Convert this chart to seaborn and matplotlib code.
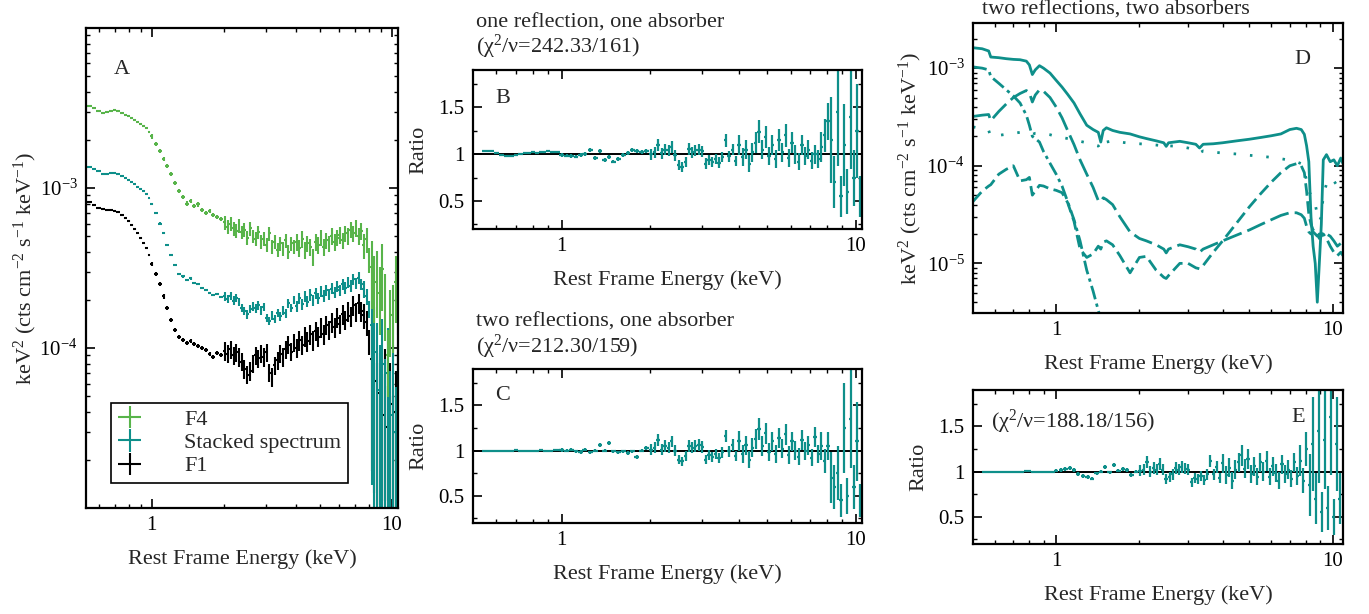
import numpy as np
import pandas as pd
import matplotlib
matplotlib.use("Agg")
import matplotlib.pyplot as plt
import seaborn as sns
from matplotlib.ticker import FixedLocator, NullFormatter, LogLocator, MultipleLocator, FuncFormatter

# ---------------- data ----------------
# spectral bins (keV)
energy = [0.55, 0.575, 0.60, 0.625, 0.65, 0.675, 0.70, 0.725, 0.75, 0.775, 0.80, 0.825, 0.85, 0.875, 0.90, 0.925, 0.95, 0.975,
          1.00, 1.04, 1.08, 1.12, 1.16, 1.20, 1.25, 1.30, 1.35, 1.40, 1.45, 1.50, 1.56, 1.62, 1.68, 1.74, 1.80, 1.87, 1.94,
          2.01, 2.07, 2.13, 2.19, 2.25, 2.31, 2.37, 2.43, 2.50, 2.57, 2.64, 2.71, 2.78, 2.85, 2.93, 3.01, 3.09, 3.17, 3.25, 3.34,
          3.43, 3.52, 3.61, 3.71, 3.81, 3.91, 4.01, 4.12, 4.23, 4.34, 4.45, 4.57, 4.69, 4.81, 4.94, 5.07, 5.20, 5.34, 5.48, 5.62,
          5.77, 5.92, 6.07, 6.23, 6.39, 6.56, 6.73, 6.90, 7.08, 7.26, 7.45, 7.64, 7.84, 8.04, 8.25, 8.46, 8.68, 8.90, 9.13, 9.36,
          9.60, 9.85, 10.10, 10.36, 10.60]

# unfolded spectra, units of 1e-4 keV^2 cts cm^-2 s^-1 keV^-1
f4_flux = [32.5, 31.5, 30.5, 29.5, 29.8, 30.5, 30.8, 30.2, 29.5, 28.8, 28.0, 27.5, 26.8, 26.0, 25.2, 24.5, 23.8, 22.5,
           21.0, 18.8, 17.0, 15.2, 13.8, 12.3, 10.8, 9.6, 8.8, 8.0, 8.3, 7.7, 7.9, 7.3, 7.0, 7.2, 6.8, 6.6, 6.4,
           6.1, 5.7, 6.0, 5.6, 5.4, 5.8, 5.3, 5.5, 4.9, 5.6, 5.0, 4.8, 5.3, 4.6, 4.8, 4.4, 5.2, 4.3, 4.6, 4.1,
           4.5, 4.2, 4.7, 4.0, 4.5, 4.3, 4.6, 4.2, 4.8, 4.1, 4.5, 4.3, 3.7, 4.6, 4.4, 4.9, 4.3, 4.7, 4.5, 5.0,
           4.6, 4.9, 5.1, 4.7, 5.2, 5.0, 5.5, 5.2, 5.6, 5.0, 5.4, 4.4, 4.8, 3.6, 3.2, 2.6, 2.8, 2.2, 3.1, 2.0,
           0.9, 1.6, 1.7, 2.6, 2.2]
stacked_flux = [13.6, 13.2, 12.7, 12.3, 12.2, 12.4, 12.5, 12.3, 11.9, 11.6, 11.2, 10.9, 10.6, 10.2, 9.9, 9.6, 9.2, 8.6,
                7.9, 7.0, 6.0, 5.2, 4.4, 3.8, 3.3, 2.9, 2.8, 2.65, 2.72, 2.55, 2.50, 2.38, 2.30, 2.22, 2.15, 2.18, 2.08,
                2.10, 2.02, 2.12, 1.98, 2.06, 1.95, 1.78, 1.70, 1.62, 1.75, 1.82, 1.77, 1.85, 1.72, 1.80, 1.55, 1.48, 1.60, 1.52, 1.66,
                1.58, 1.72, 1.65, 1.90, 1.78, 2.00, 1.82, 2.05, 1.88, 2.10, 1.95, 2.15, 1.98, 2.20, 2.05, 2.25, 2.12, 2.30, 2.18, 2.35,
                2.22, 2.42, 2.30, 2.50, 2.38, 2.58, 2.45, 2.70, 2.55, 2.75, 2.50, 2.35, 2.10, 1.75, 1.40, 0.95, 0.75, 0.55, 0.80, 0.45,
                0.70, 0.38, 0.55, 0.30, 0.50]
f1_flux = [8.2, 7.8, 7.5, 7.35, 7.3, 7.25, 7.2, 7.1, 6.8, 6.5, 6.2, 5.9, 5.55, 5.2, 4.85, 4.5, 4.2, 3.8,
           3.35, 2.9, 2.5, 2.1, 1.78, 1.50, 1.30, 1.17, 1.12, 1.08, 1.11, 1.06, 1.03, 1.00, 0.97, 0.92, 0.88, 0.93, 0.90,
           0.96, 0.92, 0.98, 0.90, 0.94, 0.88, 0.82, 0.74, 0.68, 0.72, 0.80, 0.90, 0.86, 0.92, 0.88, 0.94, 0.70, 0.66, 0.78, 0.84,
           0.92, 0.88, 0.98, 1.05, 0.95, 1.08, 1.00, 1.12, 1.05, 1.18, 1.10, 1.22, 1.12, 1.28, 1.18, 1.35, 1.22, 1.40, 1.30, 1.45,
           1.35, 1.55, 1.42, 1.62, 1.50, 1.70, 1.58, 1.85, 1.68, 1.90, 1.70, 1.60, 1.45, 1.10, 0.85, 0.62, 0.45, 0.52, 0.38, 0.55,
           0.32, 0.45, 0.28, 0.40, 0.30]

# data/model ratios
ratio_b = [1.03, 1.03, 1.01, 0.995, 0.985, 0.985, 0.99, 1.0, 1.01, 1.015, 1.02, 1.01, 1.02, 1.025, 1.03, 1.025, 1.02, 1.02,
           0.99, 0.985, 0.98, 0.975, 0.99, 1.0, 1.04, 0.96, 1.03, 0.94, 0.97, 0.92, 0.95, 0.99, 1.01, 1.04, 1.03, 1.02, 1.03,
           1.00, 1.02, 1.10, 1.01, 1.05, 1.04, 1.08, 0.99, 0.88, 0.86, 0.92, 1.06, 1.02, 1.04, 1.05, 1.03, 0.90, 0.94, 0.92, 0.95,
           0.91, 0.97, 1.15, 0.98, 1.05, 0.93, 1.10, 0.97, 1.05, 0.90, 1.02, 1.12, 1.24, 1.05, 1.18, 0.98, 1.10, 0.95, 1.15, 1.02,
           1.20, 0.96, 1.12, 1.00, 0.92, 1.10, 0.98, 1.05, 0.93, 1.00, 0.95, 1.08, 1.20, 1.35, 1.15, 0.70, 1.45, 0.55, 1.10, 0.60,
           1.40, 0.75, 1.25, 0.55, 0.95]
ratio_c = [1.0, 1.0, 1.0, 0.998, 1.0, 1.0, 1.002, 1.0, 0.998, 1.0, 1.0, 1.0, 1.002, 1.0, 0.998, 1.0, 1.005, 1.008,
           1.005, 1.0, 1.01, 0.99, 0.985, 1.01, 0.98, 1.0, 1.06, 1.0, 1.08, 0.99, 0.98, 0.99, 0.97, 0.99, 0.93, 1.0, 1.03,
           1.01, 1.03, 1.12, 1.01, 1.05, 1.03, 1.10, 1.00, 0.90, 0.88, 0.94, 1.05, 1.03, 1.05, 1.06, 1.04, 0.90, 0.95, 0.93, 0.96,
           0.92, 0.98, 1.16, 0.99, 1.06, 0.94, 1.11, 0.96, 1.06, 0.90, 1.03, 1.13, 1.24, 1.05, 1.19, 0.98, 1.10, 0.96, 1.14, 1.02,
           1.18, 0.95, 1.10, 1.00, 0.93, 1.12, 0.99, 1.06, 0.92, 1.15, 0.96, 1.05, 0.88, 1.05, 0.70, 0.60, 0.75, 0.45, 1.25, 0.50,
           1.35, 0.60, 1.10, 0.45, 0.90]
ratio_e = [1.0, 1.0, 1.0, 1.0, 0.998, 0.995, 0.995, 0.998, 1.0, 1.005, 1.005, 1.0, 0.998, 0.995, 0.99, 0.995, 1.0, 1.0,
           1.01, 1.02, 1.03, 1.04, 1.02, 0.97, 0.95, 0.94, 0.92, 0.98, 1.0, 1.05, 0.99, 1.07, 1.01, 1.03, 1.02, 0.96, 1.0,
           1.01, 1.02, 1.11, 1.00, 1.04, 1.02, 1.08, 1.02, 0.92, 0.94, 0.97, 1.04, 1.02, 1.05, 1.03, 1.02, 0.88, 0.93, 0.92, 0.95,
           0.91, 0.97, 1.12, 0.97, 1.05, 0.93, 1.09, 0.96, 1.04, 0.90, 1.02, 1.10, 1.18, 1.03, 1.14, 0.97, 1.06, 0.94, 1.10, 1.00,
           1.12, 0.94, 1.06, 0.98, 0.90, 1.08, 0.97, 1.02, 0.92, 1.10, 0.95, 1.12, 0.90, 1.25, 0.85, 1.30, 0.70, 1.45, 0.55, 1.35,
           0.60, 1.60, 0.50, 1.30, 0.70]

# fractional 1-sigma errors per energy band (band edges in keV)
err_band_edges = [1.0, 2.0, 4.0, 7.5, 8.2]
rel_err_f4 = [0.012, 0.03, 0.10, 0.12, 0.18, 0.45]
rel_err_stacked = [0.006, 0.015, 0.06, 0.08, 0.12, 0.90]
rel_err_f1 = [0.012, 0.03, 0.13, 0.14, 0.18, 0.80]
rel_err_ratio = [0.006, 0.02, 0.06, 0.10, 0.15, 0.40]

# model components of panel D (units of 1e-4)
model_energy = [0.50, 0.54, 0.57, 0.58, 0.62, 0.66, 0.70, 0.74, 0.78, 0.80, 0.82, 0.84, 0.87, 0.90, 0.95,
                1.00, 1.05, 1.10, 1.16, 1.22, 1.29, 1.36, 1.42, 1.45, 1.48, 1.52, 1.60, 1.70, 1.85, 2.00,
                2.12, 2.30, 2.45, 2.50, 2.55, 2.80, 3.00, 3.20, 3.30, 3.40, 3.70, 4.00, 4.50, 5.00, 5.50,
                6.00, 6.50, 7.00, 7.40, 7.70, 7.90, 8.05, 8.20, 8.35, 8.50, 8.65, 8.80, 8.95, 9.10, 9.25,
                9.50, 9.80, 10.10, 10.40, 10.70, 10.90]
model_total = [16.2, 15.8, 15.0, 13.0, 12.8, 12.5, 12.3, 12.2, 11.8, 10.8, 8.6, 9.6, 10.6, 10.0, 8.9,
               7.5, 6.4, 5.4, 4.4, 3.4, 2.6, 2.35, 2.2, 1.75, 2.3, 2.45, 2.3, 2.2, 2.12, 1.98,
               1.9, 1.8, 1.72, 1.58, 1.72, 1.78, 1.72, 1.66, 1.52, 1.66, 1.68, 1.72, 1.8, 1.87, 1.95,
               2.03, 2.12, 2.35, 2.42, 2.35, 2.1, 1.6, 1.1, 0.3, 0.15, 0.1, 0.04, 0.1, 0.25, 1.15,
               1.3, 1.1, 1.15, 1.0, 1.2, 1.05]
model_soft = [10.3, 10.0, 9.6, 8.2, 7.0, 6.0, 5.2, 4.4, 3.3, 2.6, 2.0, 1.9, 1.75, 1.4, 1.06,
              0.82, 0.62, 0.43, 0.28, 0.17, 0.085, 0.052, 0.033, 0.027, 0.022, 0.017] + [np.nan] * 40
model_refl1 = [3.2, 3.3, 3.35, 2.9, 3.6, 4.3, 5.0, 5.5, 5.9, 5.6, 4.5, 5.3, 6.0, 5.8, 5.0,
               4.0, 3.1, 2.3, 1.65, 1.15, 0.82, 0.6, 0.44, 0.43, 0.47, 0.45, 0.40, 0.30, 0.21, 0.18,
               0.17, 0.155, 0.14, 0.128, 0.14, 0.155, 0.148, 0.14, 0.13, 0.14, 0.155, 0.17, 0.195, 0.22, 0.25,
               0.28, 0.31, 0.33, 0.33, 0.315, 0.29, 0.24, 0.21, 0.2, 0.21, 0.2, 0.19, 0.2, 0.2, 0.21,
               0.2, 0.19, 0.17, 0.15, 0.16, 0.14]
model_refl2 = [0.43, 0.55, 0.62, 0.64, 0.82, 0.92, 1.0, 0.70, 0.72, 0.76, 0.50, 0.55, 0.63, 0.62, 0.58,
               0.56, 0.53, 0.42, 0.27, 0.14, 0.115, 0.125, 0.15, 0.14, 0.165, 0.17, 0.155, 0.12, 0.08, 0.115,
               0.118, 0.085, 0.072, 0.07, 0.075, 0.1, 0.1, 0.09, 0.088, 0.095, 0.13, 0.17, 0.26, 0.38, 0.52,
               0.68, 0.85, 1.0, 1.05, 1.0, 0.85, 0.55, 0.32, 0.25, 0.22, 0.21, 0.2, 0.18, 0.19, 0.2,
               0.18, 0.15, 0.13, 0.12, 0.13, 0.12]
model_powerlaw = [2.5, 2.4, 2.3, 2.0, 2.05, 2.1, 2.15, 2.2, 2.2, 2.18, 2.1, 2.15, 2.15, 2.13, 2.08,
                  2.0, 1.95, 1.9, 1.85, 1.78, 1.72, 1.66, 1.6, 1.45, 1.65, 1.75, 1.8, 1.75, 1.7, 1.68,
                  1.66, 1.63, 1.6, 1.52, 1.6, 1.58, 1.52, 1.45, 1.35, 1.42, 1.38, 1.35, 1.32, 1.28, 1.25,
                  1.22, 1.18, 1.14, 1.1, 1.05, 0.9, 0.7, 0.55, 0.5, 0.45, 0.4, 0.32, 0.27, 0.3, 0.5,
                  0.65, 0.75, 0.7, 0.62, 0.66, 0.6]

series_labels = ["F4", "Stacked spectrum", "F1"]
xlabel_text = "Rest Frame Energy (keV)"
flux_label = r"keV$^2$ (cts cm$^{-2}$ s$^{-1}$ keV$^{-1}$)"

# ---------------- style ----------------
sns.set_theme(style="ticks")
plt.rcParams['font.family'] = ['Liberation Serif', 'DejaVu Serif']
plt.rcParams['mathtext.fontset'] = 'custom'
plt.rcParams['mathtext.rm'] = 'Liberation Serif'
plt.rcParams['mathtext.it'] = 'Liberation Serif:italic'
plt.rcParams['mathtext.default'] = 'regular'
plt.rcParams['axes.linewidth'] = 1.6
plt.rcParams['axes.edgecolor'] = 'black'

TEAL = '#0e8f8a'
GREEN = '#58b44a'
BLACK = '#000000'
FS = 16
TFS = 15

fig = plt.figure(figsize=(13.69, 6.14), dpi=100)
axA = fig.add_axes([0.0628, 0.1726, 0.2279, 0.7818])
axB = fig.add_axes([0.3455, 0.6270, 0.2842, 0.2590])
axC = fig.add_axes([0.3455, 0.1482, 0.2842, 0.2508])
axD = fig.add_axes([0.7107, 0.4902, 0.2703, 0.4723])
axE = fig.add_axes([0.7107, 0.1140, 0.2703, 0.2508])

E = np.array(energy)
band = np.digitize(E, err_band_edges)
# half-widths of drawn bins from spacing of bin centres
xerr = 0.5 * np.gradient(E)


def pow10(v, p):
    return r'$10^{%d}$' % int(round(np.log10(v)))


def style_axis(ax, xlim, ylog, ylim, ymajor):
    ax.set_xscale('log')
    ax.set_xlim(*xlim)
    ax.xaxis.set_major_locator(FixedLocator([1, 10]))
    ax.xaxis.set_major_formatter(FuncFormatter(lambda v, p: f'{v:g}'))
    ax.xaxis.set_minor_locator(FixedLocator([0.6, 0.7, 0.8, 0.9, 2, 3, 4, 5, 6, 7, 8, 9]))
    ax.xaxis.set_minor_formatter(NullFormatter())
    if ylog:
        ax.set_yscale('log')
        ax.set_ylim(*ylim)
        ax.yaxis.set_major_locator(FixedLocator(ymajor))
        ax.yaxis.set_major_formatter(FuncFormatter(pow10))
        ax.yaxis.set_minor_locator(LogLocator(base=10, subs=np.arange(2, 10), numticks=100))
        ax.yaxis.set_minor_formatter(NullFormatter())
    else:
        ax.set_ylim(*ylim)
        ax.yaxis.set_major_locator(FixedLocator(ymajor))
        ax.yaxis.set_major_formatter(FuncFormatter(lambda v, p: f'{v:g}'))
        ax.yaxis.set_minor_locator(MultipleLocator(0.25))
        ax.yaxis.set_minor_formatter(NullFormatter())
    ax.tick_params(which='both', direction='in', top=True, right=True, colors='black',
                   labelsize=TFS, pad=6)
    ax.tick_params(which='major', length=6.5, width=1.2)
    ax.tick_params(which='minor', length=3.2, width=1.0)
    ax.set_xlabel(xlabel_text, fontsize=FS, labelpad=10)
    for s in ax.spines.values():
        s.set_visible(True)
        s.set_linewidth(1.6)
        s.set_color('black')


# ---------------- panel A ----------------
handles = {}
for lab, vals, rel, col in [("F1", f1_flux, rel_err_f1, BLACK),
                            ("Stacked spectrum", stacked_flux, rel_err_stacked, TEAL),
                            ("F4", f4_flux, rel_err_f4, GREEN)]:
    y = np.array(vals) * 1e-4
    err = y * np.array(rel)[band]
    lower = np.minimum(err, y - 1e-7)
    h = axA.errorbar(E, y, xerr=xerr, yerr=[lower, err], fmt='none', ecolor=col,
                     elinewidth=1.5, capsize=0, label=lab)
    handles[lab] = h
style_axis(axA, (0.532, 10.6), True, (1e-5, 1e-2), [1e-4, 1e-3])
axA.set_ylabel(flux_label, fontsize=FS, labelpad=0)
axA.text(0.115, 0.914, "A", transform=axA.transAxes, fontsize=FS, ha='center', va='center')
leg = axA.legend([handles[l] for l in series_labels], series_labels, loc='lower left',
                 bbox_to_anchor=(0.079, 0.052), borderaxespad=0, frameon=True, fancybox=False,
                 edgecolor='black', framealpha=1, fontsize=FS, handlelength=1.1, handletextpad=1.9,
                 borderpad=0.3, labelspacing=0.12)
leg.get_frame().set_linewidth(1.2)

# ---------------- ratio panels ----------------
ratio_err_scale = np.array(rel_err_ratio)[band]
for ax, vals in [(axB, ratio_b), (axC, ratio_c), (axE, ratio_e)]:
    r = np.array(vals)
    ax.axhline(1.0, color='black', lw=1.4, zorder=1)
    ax.errorbar(E, r, xerr=xerr, yerr=r * ratio_err_scale, fmt='none', ecolor=TEAL,
                elinewidth=1.6, capsize=0, zorder=2)
    style_axis(ax, (0.5, 10.5), False, (0.2, 1.9), [0.5, 1, 1.5])
    ax.set_ylabel("Ratio", fontsize=FS, labelpad=7)
axE.set_xlim(0.5, 10.9)

axB.text(0.077, 0.82, "B", transform=axB.transAxes, fontsize=FS, ha='center', va='center')
axC.text(0.077, 0.83, "C", transform=axC.transAxes, fontsize=FS, ha='center', va='center')
axE.text(0.878, 0.82, "E", transform=axE.transAxes, fontsize=FS, ha='center', va='center')
axE.text(0.05, 0.79, "(χ$^2$/ν=188.18/156)", transform=axE.transAxes, fontsize=FS, ha='left', va='center')

axB.text(0.008, 1.296, "one reflection, one absorber", transform=axB.transAxes, fontsize=FS, ha='left', va='center')
axB.text(0.008, 1.145, "(χ$^2$/ν=242.33/161)", transform=axB.transAxes, fontsize=FS, ha='left', va='center')
axC.text(0.008, 1.307, "two reflections, one absorber", transform=axC.transAxes, fontsize=FS, ha='left', va='center')
axC.text(0.008, 1.145, "(χ$^2$/ν=212.30/159)", transform=axC.transAxes, fontsize=FS, ha='left', va='center')

# ---------------- panel D (model components) ----------------
comp_names = ["total", "soft", "refl1", "refl2", "powerlaw"]
comp_vals = [model_total, model_soft, model_refl1, model_refl2, model_powerlaw]
frames = []
for n, v in zip(comp_names, comp_vals):
    frames.append(pd.DataFrame({"energy": model_energy, "flux": np.array(v) * 1e-4, "component": n}))
dfD = pd.concat(frames, ignore_index=True).dropna()
dash_map = {"total": "", "soft": (5, 1.6, 1.2, 1.6), "refl1": (7, 2.2), "refl2": (4.5, 2.0),
            "powerlaw": (0.9, 5)}
sns.lineplot(data=dfD, x="energy", y="flux", style="component", style_order=comp_names,
             dashes=dash_map, color=TEAL, linewidth=2.0, estimator=None, sort=False,
             legend=False, ax=axD)
style_axis(axD, (0.5, 10.9), True, (3.1e-6, 2.9e-3), [1e-5, 1e-4, 1e-3])
axD.set_ylabel(flux_label, fontsize=FS, labelpad=2)
axD.text(0.891, 0.875, "D", transform=axD.transAxes, fontsize=FS, ha='center', va='center')
axD.text(0.024, 1.045, "two reflections, two absorbers", transform=axD.transAxes, fontsize=FS,
         ha='left', va='center')

fig.savefig("out.png", dpi=100)
